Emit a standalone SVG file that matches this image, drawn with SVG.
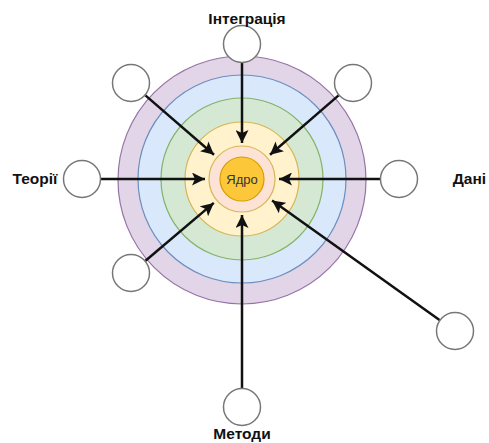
<svg xmlns="http://www.w3.org/2000/svg" width="489" height="443" viewBox="0 0 489 443">
<style>
.ring{stroke-width:1.2}
.sat{fill:#ffffff;stroke:#777777;stroke-width:1.5}
.lbl{font-family:"Liberation Sans",Arial,sans-serif;font-weight:bold;font-size:15.5px;fill:#111111}
.conn{stroke:#111111;stroke-width:2.5;fill:none;marker-end:url(#arr)}
</style>
<defs>
<marker id="arr" markerUnits="userSpaceOnUse" markerWidth="15" markerHeight="13" refX="13" refY="6.5" orient="auto">
<path d="M0,0 L13,6.5 L0,13 L3,6.5 Z" fill="#111111"/>
</marker>
</defs>
<rect width="489" height="443" fill="#ffffff"/>
<g id="rings">
<circle class="ring" cx="242" cy="180" r="124" fill="#e1d5e7" stroke="#9673a6"/>
<circle class="ring" cx="242" cy="179" r="104" fill="#dae8fc" stroke="#6c8ebf"/>
<circle class="ring" cx="242" cy="179" r="81" fill="#d5e8d4" stroke="#82b366"/>
<circle class="ring" cx="242" cy="179" r="57" fill="#fff2cc" stroke="#d6b656"/>
<circle class="ring" cx="242" cy="179" r="33" fill="#fde3d5" stroke="#d6b656"/>
</g>
<g id="core">
<circle cx="242" cy="179" r="22" fill="#fcc83a" stroke="#d79b00" stroke-width="1.2"/>
<text x="242" y="183.5" text-anchor="middle" font-family="'Liberation Sans',Arial,sans-serif" font-size="13" fill="#333333">Ядро</text>
</g>
<g id="connectors">
<line class="conn" x1="242" y1="63" x2="242" y2="143"/>
<line class="conn" x1="145.4" y1="95.4" x2="214" y2="154.8"/>
<line class="conn" x1="338.6" y1="95.4" x2="270" y2="154.8"/>
<line class="conn" x1="101" y1="179" x2="205" y2="179"/>
<line class="conn" x1="380" y1="179" x2="279" y2="179"/>
<line class="conn" x1="145.5" y1="260.7" x2="213.8" y2="202.9"/>
<line class="conn" x1="439.5" y1="320" x2="272.1" y2="200.5"/>
<line class="conn" x1="242" y1="388" x2="242" y2="215"/>
</g>
<g id="n-top"><circle class="sat" cx="242" cy="44" r="18.5"/></g>
<g id="n-topleft"><circle class="sat" cx="131" cy="83" r="18.5"/></g>
<g id="n-topright"><circle class="sat" cx="353" cy="83" r="18.5"/></g>
<g id="n-left"><circle class="sat" cx="82" cy="179" r="18.5"/></g>
<g id="n-right"><circle class="sat" cx="399" cy="179" r="18.5"/></g>
<g id="n-bottomleft"><circle class="sat" cx="131" cy="273" r="18.5"/></g>
<g id="n-bottomright"><circle class="sat" cx="455" cy="331" r="18.5"/></g>
<g id="n-bottom"><circle class="sat" cx="242" cy="407" r="18.5"/></g>
<g id="labels">
<text class="lbl" x="247" y="24" text-anchor="middle">Інтеграція</text>
<text class="lbl" x="35" y="183.5" text-anchor="middle">Теорії</text>
<text class="lbl" x="469.5" y="183.5" text-anchor="middle">Дані</text>
<text class="lbl" x="242" y="439" text-anchor="middle">Методи</text>
</g>
</svg>
